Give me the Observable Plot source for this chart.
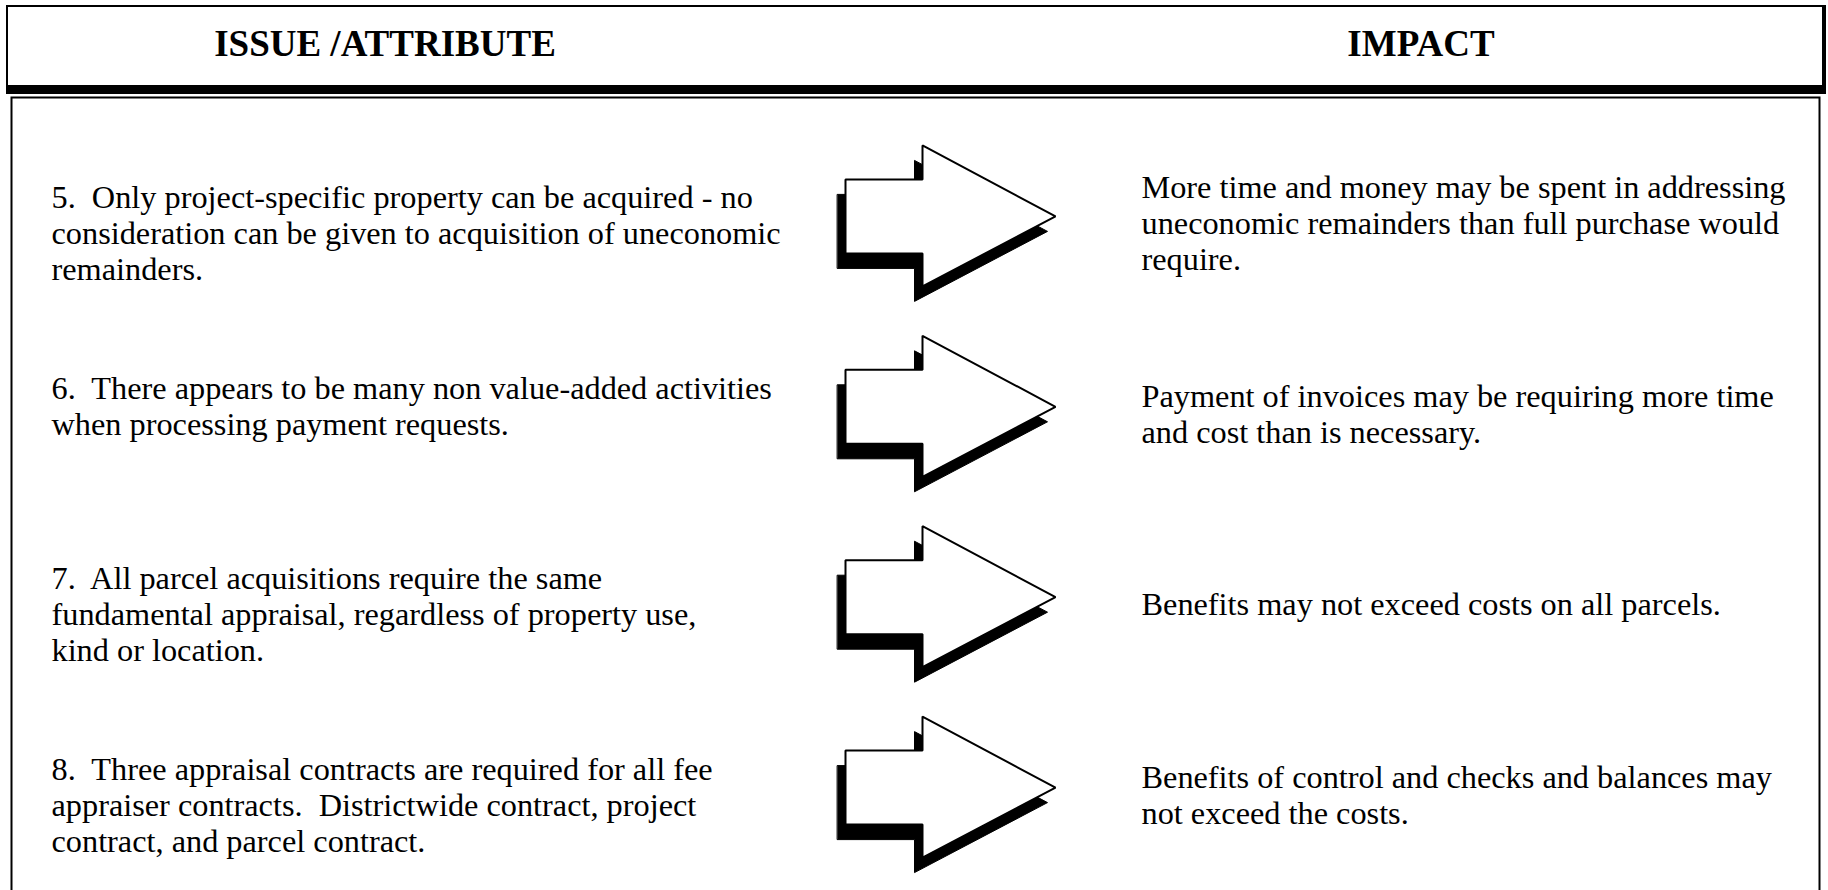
<!DOCTYPE html>
<html><head><meta charset="utf-8">
<script src="https://cdn.jsdelivr.net/npm/d3@7"></script>
<script src="https://cdn.jsdelivr.net/npm/@observablehq/plot@0.6"></script>
<style>
html,body{margin:0;padding:0;background:#fff;width:1828px;height:890px;overflow:hidden;position:relative}
#header{position:absolute;left:6px;top:5px;width:1820px;height:89px;box-sizing:border-box;border:2px solid #000;border-right:4px solid #000;border-bottom:9px solid #000;}
.col{position:absolute;top:18px;font:bold 37px "Liberation Serif","Times New Roman",serif;line-height:1;white-space:nowrap;transform:translateX(-50%);color:#000}
#chart{position:absolute;left:0;top:96px}
</style></head><body>
<div id="header"></div>
<div id="chart"></div>
<script>
// ---- data ----
const columns = ["ISSUE /ATTRIBUTE", "IMPACT"];
const items = [5, 6, 7, 8];
const issues = [
  "5.  Only project-specific property can be acquired - no\nconsideration can be given to acquisition of uneconomic\nremainders.",
  "6.  There appears to be many non value-added activities\nwhen processing payment requests.",
  "7.  All parcel acquisitions require the same\nfundamental appraisal, regardless of property use,\nkind or location.",
  "8.  Three appraisal contracts are required for all fee\nappraiser contracts.  Districtwide contract, project\ncontract, and parcel contract."
];
const impacts = [
  "More time and money may be spent in addressing\nuneconomic remainders than full purchase would\nrequire.",
  "Payment of invoices may be requiring more time\nand cost than is necessary.",
  "Benefits may not exceed costs on all parcels.",
  "Benefits of control and checks and balances may\nnot exceed the costs."
];

// ---- layout / style ----
const W = 1828, H = 794;
const colCenters = [377, 1413];
const leftX = 51, rightX = 1141;
const yRange = [111.9, 683.1];
const fontSize = 32.3, lineHeight = 1.115;
const arrowShape = [[-210,-37],[-133,-37],[-133,-71],[0,0],[-133,70],[-133,37],[-210,37]];
const tipX = 1055, tipDy = 8, shadowOff = [-8, 15];

// header
const header = document.getElementById("header");
columns.forEach((c, i) => {
  const s = document.createElement("div");
  s.className = "col";
  s.style.left = colCenters[i] + "px";
  s.textContent = c;
  header.appendChild(s);
});

const rows = items.map((item, i) => ({item, issue: issues[i], impact: impacts[i]}));
const yDomain = d3.extent(items);
const k = (yRange[1] - yRange[0]) / (yDomain[1] - yDomain[0]);

const arrowRows = items.flatMap(item => arrowShape.map(([dx, dy]) => ({item, x: tipX + dx, y: item + (tipDy + dy) / k})));
const shadowRows = items.flatMap(item => arrowShape.map(([dx, dy]) => ({item, x: tipX + dx + shadowOff[0], y: item + (tipDy + dy + shadowOff[1]) / k})));

const chart = Plot.plot({
  width: W, height: H,
  marginLeft: 11, marginRight: 9, marginTop: 1, marginBottom: -4,
  x: {domain: [11, 1819], axis: null},
  y: {domain: yDomain, range: yRange, axis: null},
  style: {background: "white", overflow: "hidden"},
  marks: [
    Plot.frame({stroke: "black", strokeWidth: 2}),
    Plot.line(shadowRows, {x: "x", y: "y", z: "item", fill: "black", stroke: "black", strokeWidth: 1, curve: "linear-closed"}),
    Plot.line(arrowRows, {x: "x", y: "y", z: "item", fill: "white", stroke: "black", strokeWidth: 2, strokeLinejoin: "miter", curve: "linear-closed"}),
    Plot.text(rows, {x: leftX, y: "item", text: "issue", textAnchor: "start", lineAnchor: "top", lineHeight, fontSize, fontFamily: "Liberation Serif", fill: "black", dy: -0.71 * lineHeight * fontSize}),
    Plot.text(rows, {x: rightX, y: "item", text: "impact", textAnchor: "start", lineAnchor: "middle", lineHeight, fontSize, fontFamily: "Liberation Serif", fill: "black", dy: 26 - 0.32 * lineHeight * fontSize})
  ]
});
document.getElementById("chart").appendChild(chart);
</script>
</body></html>
